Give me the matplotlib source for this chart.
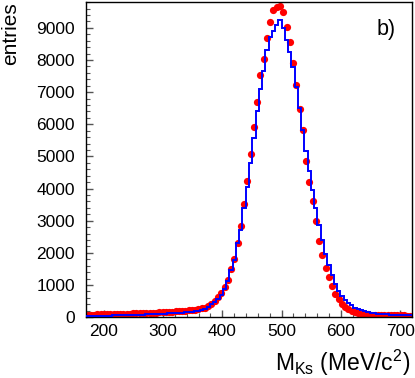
import numpy as np
import matplotlib.pyplot as plt

plt.rcParams['font.family'] = ['Liberation Sans', 'DejaVu Sans']
plt.rcParams['mathtext.fontset'] = 'custom'
plt.rcParams['mathtext.rm'] = 'Liberation Sans'

# binning: 100 bins from 170 to 720 MeV/c^2
x_lo, x_hi, n_bins = 170.0, 720.0, 100
edges = np.linspace(x_lo, x_hi, n_bins + 1)
centers = 0.5 * (edges[:-1] + edges[1:])

# data points (red)
data_entries = [
    75, 78, 80, 84, 86, 88, 92, 94, 96, 100,
    102, 105, 108, 112, 115, 118, 122, 126, 130, 134,
    138, 142, 147, 152, 158, 164, 170, 178, 186, 195,
    203, 212, 222, 235, 250, 270, 300, 340, 405, 498,
    614, 757, 944, 1153, 1486, 1797, 2296, 2835, 3511, 4246,
    5077, 5928, 6688, 7548, 8027, 8681, 9189, 9570, 9647, 9688,
    9491, 9024, 8557, 7903, 7236, 6480, 5825, 4859, 4196, 3623,
    2980, 2377, 1935, 1540, 1250, 955, 725, 555, 420, 330,
    260, 205, 160, 128, 105, 92, 84, 78, 73, 70,
    67, 64, 62, 60, 58, 56, 54, 52, 50, 48,
]

# simulation (blue histogram)
mc_entries = [
    25, 28, 30, 33, 36, 40, 44, 48, 52, 56,
    60, 64, 68, 72, 75, 78, 80, 82, 84, 88,
    92, 96, 100, 105, 110, 116, 122, 128, 135, 140,
    148, 155, 165, 177, 190, 215, 250, 310, 400, 480,
    580, 700, 880, 1120, 1464, 1776, 2296, 2710, 3386, 4059,
    4788, 5567, 6400, 7093, 7650, 8317, 8731, 8900, 9100, 9240,
    9000, 8629, 8264, 7797, 7174, 6510, 5825, 5180, 4560, 3960,
    3390, 2870, 2400, 1980, 1620, 1300, 1040, 820, 650, 530,
    440, 365, 300, 250, 210, 178, 152, 132, 116, 104,
    96, 90, 86, 82, 78, 75, 72, 70, 68, 66,
]

fig = plt.figure(figsize=(4.15, 3.78), dpi=100)
ax = fig.add_axes([0.207, 0.161, 0.786, 0.834])

ax.plot(centers, data_entries, 'o', color='#ff0000', markersize=5.2,
        markeredgewidth=0, zorder=2)
ax.stairs(mc_entries, edges, baseline=None, color='#0000ff', linewidth=1.4, zorder=3)

ax.set_xlim(x_lo, x_hi)
ax.set_ylim(0, 9810)
ax.set_xticks([200, 300, 400, 500, 600, 700])
ax.set_xticks(np.arange(180, 720, 20), minor=True)
ax.set_yticks(np.arange(0, 9001, 1000))
ax.set_yticks(np.arange(0, 9801, 200), minor=True)
ax.tick_params(which='both', direction='in', top=False, right=False,
               color='#555555', labelsize=12.5)
ax.tick_params(which='major', length=5, width=1)
ax.tick_params(which='minor', length=3, width=0.8)
ax.tick_params(axis='y', pad=8)
ax.tick_params(axis='x', pad=5)
for s in ax.spines.values():
    s.set_color('black')
    s.set_linewidth(1.0)

ax.set_xlabel(r'M$_{\mathrm{Ks}}$ (MeV/c$^{2}$)', fontsize=16.5)
ax.xaxis.set_label_coords(0.995, -0.098)
ax.xaxis.label.set_horizontalalignment('right')
ax.set_ylabel('entries', fontsize=15)
ax.yaxis.set_label_coords(-0.203, 1.0)
ax.yaxis.label.set_horizontalalignment('right')

ax.text(0.892, 0.914, 'b)', transform=ax.transAxes, fontsize=15.5, va='center', ha='left')

fig.savefig('out.png', dpi=100)
